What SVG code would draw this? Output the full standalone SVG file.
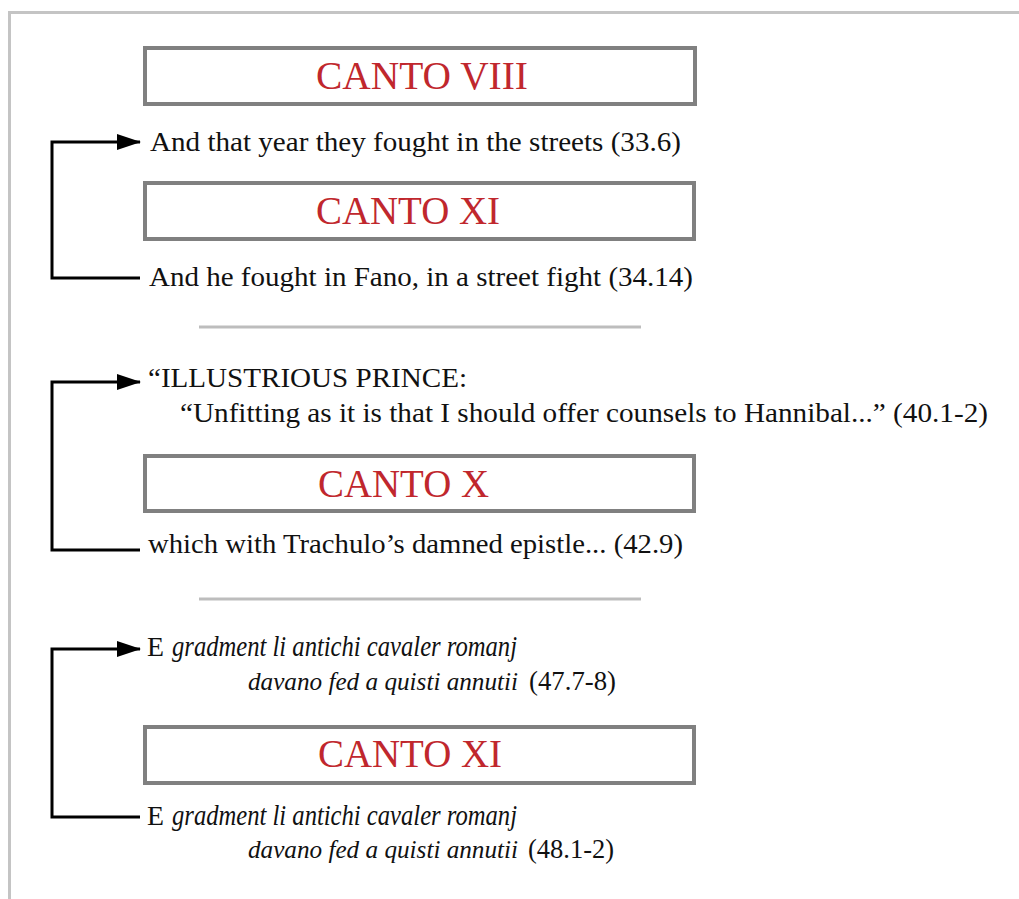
<svg xmlns="http://www.w3.org/2000/svg" width="1019" height="899" viewBox="0 0 1019 899">
<style>
.frame{fill:none;stroke:#c4c4c4;stroke-width:3}
.sep{stroke:#bdbdbd;stroke-width:3}
.box{fill:#fff;stroke:#808080;stroke-width:4}
.canto{font-family:"Liberation Serif",serif;font-size:40px;fill:#c0272d}
.t{font-family:"Liberation Serif",serif;font-size:28px;fill:#111}
.it{font-style:italic;font-size:29px}
.it2{font-style:italic;font-size:25.2px}
.conn{fill:none;stroke:#000;stroke-width:3}
</style>
<defs>
<marker id="arr" markerUnits="userSpaceOnUse" markerWidth="24" markerHeight="18" refX="23" refY="9" orient="auto">
<path d="M0,1 L24,9 L0,17 Z" fill="#000"/>
</marker>
</defs>
<rect width="1019" height="899" fill="#fff"/>
<path class="frame" d="M9.5,899 V12.5 H1019"/>
<line class="sep" x1="199" y1="327" x2="641" y2="327"/>
<line class="sep" x1="199" y1="599" x2="641" y2="599"/>

<g id="connectors">
<path class="conn" d="M140,278 H52 V142 H140" marker-end="url(#arr)"/>
<path class="conn" d="M140,550 H52 V382 H140" marker-end="url(#arr)"/>
<path class="conn" d="M140,817 H52 V649 H140" marker-end="url(#arr)"/>
</g>

<g id="canto8">
<rect class="box" x="145" y="48" width="550" height="56"/>
<text class="canto" x="316" y="89" textLength="212" lengthAdjust="spacingAndGlyphs">CANTO VIII</text>
</g>
<g id="line-33-6">
<text class="t" x="150" y="151" textLength="531" lengthAdjust="spacingAndGlyphs">And that year they fought in the streets (33.6)</text>
</g>
<g id="canto11a">
<rect class="box" x="145" y="183" width="549" height="56"/>
<text class="canto" x="316" y="224" textLength="184" lengthAdjust="spacingAndGlyphs">CANTO XI</text>
</g>
<g id="line-34-14">
<text class="t" x="149" y="286" textLength="544" lengthAdjust="spacingAndGlyphs">And he fought in Fano, in a street fight (34.14)</text>
</g>

<g id="line-40-1">
<text class="t" x="148" y="387" textLength="319" lengthAdjust="spacingAndGlyphs">“ILLUSTRIOUS PRINCE:</text>
<text class="t" x="180" y="422" textLength="808" lengthAdjust="spacingAndGlyphs">“Unfitting as it is that I should offer counsels to Hannibal...” (40.1-2)</text>
</g>
<g id="canto10">
<rect class="box" x="145" y="456" width="549" height="55"/>
<text class="canto" x="318" y="497" textLength="171" lengthAdjust="spacingAndGlyphs">CANTO X</text>
</g>
<g id="line-42-9">
<text class="t" x="148" y="553" textLength="535" lengthAdjust="spacingAndGlyphs">which with Trachulo’s damned epistle... (42.9)</text>
</g>

<g id="line-47-7">
<text class="t" x="147" y="656" textLength="17" lengthAdjust="spacingAndGlyphs">E</text>
<text class="t it" x="172" y="656" textLength="345" lengthAdjust="spacingAndGlyphs">gradment li antichi cavaler romanj</text>
<text class="t it2" x="248" y="690">davano fed a quisti annutii</text>
<text class="t" x="529" y="690" textLength="87" lengthAdjust="spacingAndGlyphs">(47.7-8)</text>
</g>
<g id="canto11b">
<rect class="box" x="145" y="727" width="549" height="56"/>
<text class="canto" x="318" y="767" textLength="184" lengthAdjust="spacingAndGlyphs">CANTO XI</text>
</g>
<g id="line-48-1">
<text class="t" x="147" y="825" textLength="17" lengthAdjust="spacingAndGlyphs">E</text>
<text class="t it" x="172" y="825" textLength="345" lengthAdjust="spacingAndGlyphs">gradment li antichi cavaler romanj</text>
<text class="t it2" x="248" y="858">davano fed a quisti annutii</text>
<text class="t" x="528" y="858" textLength="86" lengthAdjust="spacingAndGlyphs">(48.1-2)</text>
</g>
</svg>
